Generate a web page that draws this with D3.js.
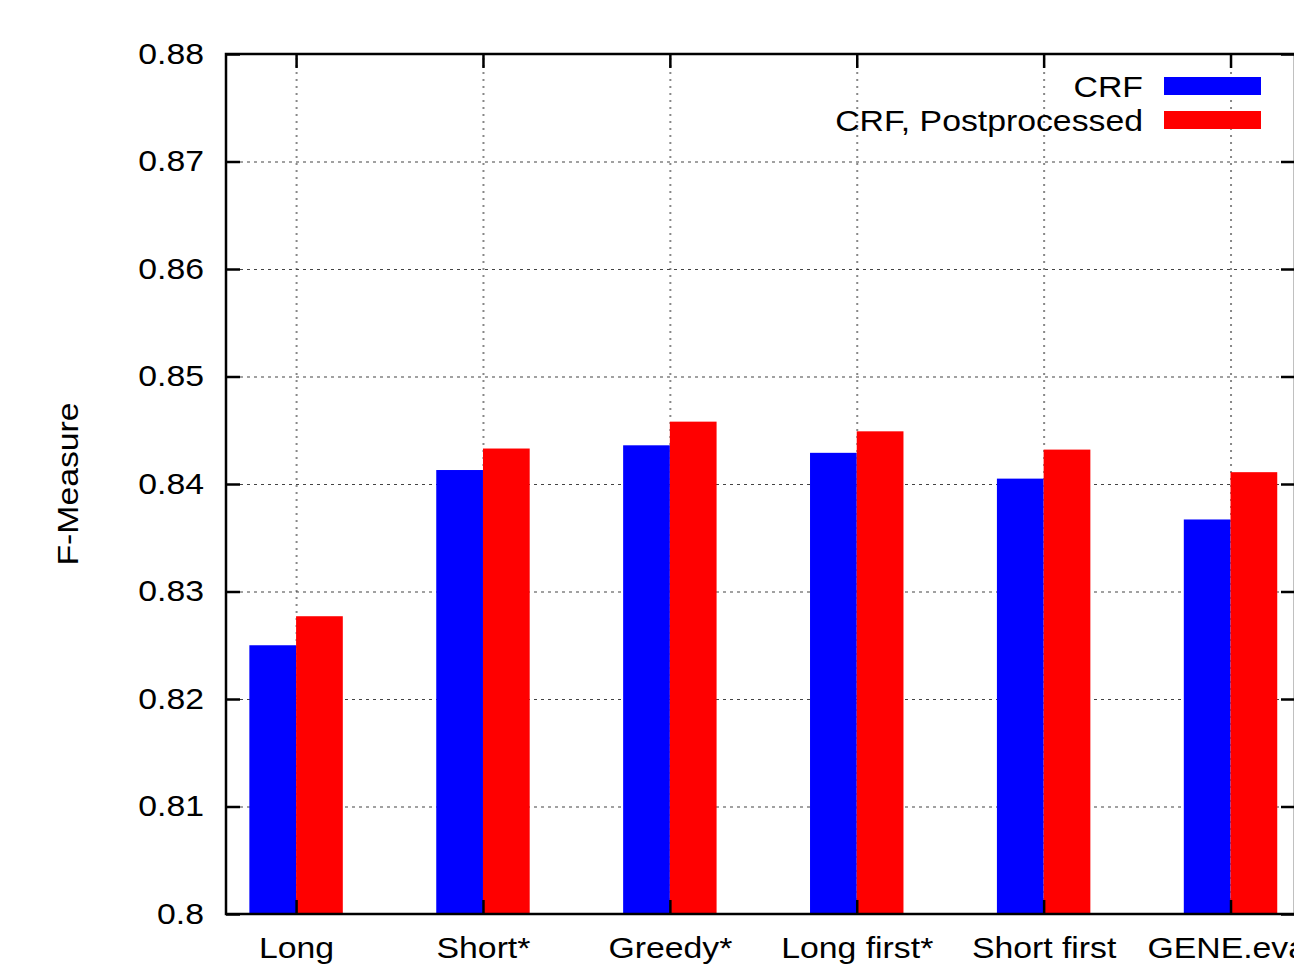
<!DOCTYPE html>
<html>
<head>
<meta charset="utf-8">
<script src="https://cdn.jsdelivr.net/npm/d3@7"></script>
<style>
  body { margin: 0; background: #fff; }
  svg { display: block; overflow: hidden; }
  text { font-family: "Liberation Sans", Arial, Helvetica, sans-serif; fill: #000; }
</style>
</head>
<body>
<div id="chart-area"></div>
<script>
// data
var categories = ["Long", "Short*", "Greedy*", "Long first*", "Short first", "GENE.eval"];
var crf = [0.8250, 0.8413, 0.8436, 0.8429, 0.8405, 0.8367];
var crfPost = [0.8277, 0.8433, 0.8458, 0.8449, 0.8432, 0.8411];
var yTicks = [0.80, 0.81, 0.82, 0.83, 0.84, 0.85, 0.86, 0.87, 0.88];
var seriesNames = ["CRF", "CRF, Postprocessed"];
var seriesColors = ["#0000ff", "#ff0000"];

var W = 1294, H = 969;
var margin = { left: 226, top: 54, right: -1, bottom: 55 };
var width = W - margin.left - margin.right,
    height = H - margin.top - margin.bottom;
var stretch = 1.165; // glyphs in the reference are a bit wider than tall
var fs = 29;

var svg = d3.select("#chart-area").append("svg").attr("width", W).attr("height", H);
var g = svg.append("g").attr("transform", "translate(" + margin.left + "," + margin.top + ")");

var x = d3.scaleLinear().domain([-0.375, 5.345]).range([0, width]);
var y = d3.scaleLinear().domain([0.80, 0.88]).range([height, 0]);
var barW = x(0.25) - x(0);
var idx = categories.map(function (d, i) { return i; });

// grid
g.append("g").attr("class", "grid-x")
  .attr("transform", "translate(0," + height + ")")
  .call(d3.axisBottom(x).tickValues(idx).tickSize(-height).tickFormat(""))
  .call(function (s) {
    s.select(".domain").remove();
    s.selectAll("line").attr("stroke", "#888").attr("stroke-width", 2).attr("stroke-dasharray", "2,5");
  });
g.append("g").attr("class", "grid-y")
  .call(d3.axisLeft(y).tickValues(yTicks).tickSize(-width).tickFormat(""))
  .call(function (s) {
    s.select(".domain").remove();
    s.selectAll("line").attr("stroke", "#444").attr("stroke-width", 1.2).attr("stroke-dasharray", "3,4");
  });

// bars
var series = [crf, crfPost];
series.forEach(function (vals, k) {
  g.selectAll(".bar" + k).data(vals).enter().append("rect")
    .attr("class", "bar" + k)
    .attr("x", function (d, i) { return x(i) + (k - 1) * barW; })
    .attr("y", function (d) { return y(d); })
    .attr("width", barW)
    .attr("height", function (d) { return height - y(d); })
    .attr("fill", seriesColors[k]);
});

// axes (ticks point inward, mirrored on top and right)
var tl = 14;
function styleAxis(s) {
  s.select(".domain").remove();
  s.selectAll("line").attr("stroke", "#000").attr("stroke-width", 2.5);
  s.selectAll("text").style("font-size", fs + "px");
}
var yAxis = g.append("g")
  .call(d3.axisLeft(y).tickValues(yTicks).tickSizeInner(-tl).tickSizeOuter(0).tickPadding(18.9)
    .tickFormat(function (d) { return d3.format(".2f")(d).replace(/0$/, ""); }))
  .call(styleAxis);
yAxis.selectAll("text").attr("transform", "scale(" + stretch + ",1)");

var xAxis = g.append("g").attr("transform", "translate(0," + height + ")")
  .call(d3.axisBottom(x).tickValues(idx).tickSizeInner(-tl).tickSizeOuter(0).tickPadding(23.5)
    .tickFormat(function (d) { return categories[d]; }))
  .call(styleAxis);
xAxis.selectAll("text").attr("transform", "scale(" + stretch + ",1)");

g.append("g")
  .call(d3.axisTop(x).tickValues(idx).tickSizeInner(-tl).tickSizeOuter(0).tickFormat(""))
  .call(styleAxis);
g.append("g").attr("transform", "translate(" + width + ",0)")
  .call(d3.axisRight(y).tickValues(yTicks).tickSizeInner(-tl).tickSizeOuter(0).tickFormat(""))
  .call(styleAxis);

// frame
g.append("rect").attr("width", width).attr("height", height)
  .attr("fill", "none").attr("stroke", "#000").attr("stroke-width", 2.5);

// y label
svg.append("text")
  .attr("transform", "translate(78," + (margin.top + height / 2) + ") rotate(-90) scale(" + stretch + ",1)")
  .attr("text-anchor", "middle")
  .style("font-size", fs + "px")
  .text("F-Measure");

// legend
var legend = svg.append("g");
seriesNames.forEach(function (name, i) {
  var row = legend.append("g").attr("transform", "translate(0," + (i * 34) + ")");
  row.append("text")
    .attr("transform", "translate(1143,97) scale(" + stretch + ",1)")
    .attr("text-anchor", "end")
    .style("font-size", fs + "px")
    .text(name);
  row.append("rect")
    .attr("x", 1164).attr("y", 77)
    .attr("width", 97).attr("height", 18)
    .attr("fill", seriesColors[i]);
});
</script>
</body>
</html>
